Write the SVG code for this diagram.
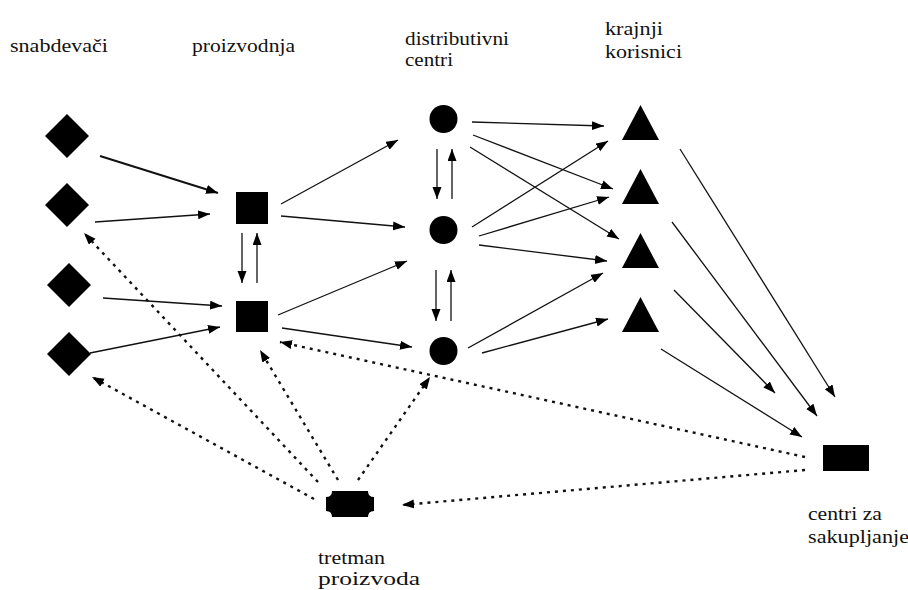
<svg xmlns="http://www.w3.org/2000/svg" width="908" height="590" viewBox="0 0 908 590">
<defs>
<marker id="ah" markerUnits="userSpaceOnUse" markerWidth="13" markerHeight="10" refX="12" refY="4.5" orient="auto">
<path d="M0,0 L12,4.5 L0,9 Z" fill="#000"/>
</marker>
</defs>
<style>
.lbl{font-family:"Liberation Serif","DejaVu Serif",serif;font-size:19px;fill:#111}
.s{stroke:#111;stroke-width:1.3;fill:none;marker-end:url(#ah)}
.d{stroke:#111;stroke-width:2.4;fill:none;stroke-dasharray:3 5;marker-end:url(#ah)}
.n{fill:#000}
</style>
<rect width="908" height="590" fill="#fff"/>

<g id="labels">
<text class="lbl" x="10" y="52" textLength="98" lengthAdjust="spacingAndGlyphs">snabdevači</text>
<text class="lbl" x="192" y="52" textLength="103" lengthAdjust="spacingAndGlyphs">proizvodnja</text>
<text class="lbl" x="405" y="45" textLength="104" lengthAdjust="spacingAndGlyphs">distributivni</text>
<text class="lbl" x="405" y="66" textLength="48" lengthAdjust="spacingAndGlyphs">centri</text>
<text class="lbl" x="605" y="35" textLength="58" lengthAdjust="spacingAndGlyphs">krajnji</text>
<text class="lbl" x="605" y="58" textLength="77" lengthAdjust="spacingAndGlyphs">korisnici</text>
<text class="lbl" x="318" y="564" textLength="67" lengthAdjust="spacingAndGlyphs">tretman</text>
<text class="lbl" x="318" y="585" textLength="102" lengthAdjust="spacingAndGlyphs">proizvoda</text>
<text class="lbl" x="808" y="520" textLength="74" lengthAdjust="spacingAndGlyphs">centri za</text>
<text class="lbl" x="808" y="543" textLength="101" lengthAdjust="spacingAndGlyphs">sakupljanje</text>
</g>

<g id="connectors">
<line class="s" x1="100" y1="156" x2="218" y2="193" style="stroke-width:2"/>
<line class="s" x1="95" y1="222" x2="210" y2="214"/>
<line class="s" x1="103" y1="298" x2="222" y2="306"/>
<line class="s" x1="90" y1="353" x2="220" y2="327"/>
<line class="s" x1="242" y1="233" x2="242" y2="283"/>
<line class="s" x1="257" y1="283" x2="257" y2="233"/>
<line class="s" x1="281" y1="204" x2="398" y2="140"/>
<line class="s" x1="281" y1="216" x2="405" y2="227"/>
<line class="s" x1="278" y1="315" x2="407" y2="261"/>
<line class="s" x1="282" y1="328" x2="412" y2="347"/>
<line class="s" x1="437" y1="149" x2="437" y2="199"/>
<line class="s" x1="452" y1="199" x2="452" y2="149"/>
<line class="s" x1="436" y1="270" x2="436" y2="321"/>
<line class="s" x1="451" y1="321" x2="451" y2="270"/>
<line class="s" x1="472" y1="122" x2="604" y2="126"/>
<line class="s" x1="473" y1="135" x2="613" y2="189"/>
<line class="s" x1="470" y1="147" x2="619" y2="239"/>
<line class="s" x1="472" y1="227" x2="608" y2="141"/>
<line class="s" x1="479" y1="236" x2="609" y2="197"/>
<line class="s" x1="479" y1="245" x2="607" y2="261"/>
<line class="s" x1="468" y1="348" x2="603" y2="273"/>
<line class="s" x1="482" y1="353" x2="608" y2="319"/>
<line class="s" x1="680" y1="149" x2="835" y2="397"/>
<line class="s" x1="672" y1="222" x2="817" y2="416"/>
<line class="s" x1="674" y1="290" x2="775" y2="393"/>
<line class="s" x1="661" y1="349" x2="802" y2="437"/>
<line class="d" x1="805" y1="457" x2="280" y2="342"/>
<line class="d" x1="805" y1="470" x2="402" y2="505"/>
<line class="d" x1="318" y1="482" x2="84" y2="233"/>
<line class="d" x1="314" y1="499" x2="92" y2="377"/>
<line class="d" x1="338" y1="480" x2="260" y2="350"/>
<line class="d" x1="358" y1="480" x2="430" y2="377"/>
</g>

<g id="supplier1"><path class="n" d="M67,114 L89,136 L67,158 L45,136 Z"/></g>
<g id="supplier2"><path class="n" d="M67,183 L89,205 L67,227 L45,205 Z"/></g>
<g id="supplier3"><path class="n" d="M69,263 L91,285 L69,307 L47,285 Z"/></g>
<g id="supplier4"><path class="n" d="M69,332 L91,354 L69,376 L47,354 Z"/></g>

<g id="plant1"><rect class="n" x="236" y="192" width="32" height="32"/></g>
<g id="plant2"><rect class="n" x="236" y="301" width="32" height="31"/></g>

<g id="dc1"><circle class="n" cx="443.5" cy="119" r="14"/></g>
<g id="dc2"><circle class="n" cx="443.5" cy="230" r="14"/></g>
<g id="dc3"><circle class="n" cx="443.5" cy="351" r="14"/></g>

<g id="customer1"><path class="n" d="M640.5,105 L659,140 L622,140 Z"/></g>
<g id="customer2"><path class="n" d="M640.5,169 L659,204 L622,204 Z"/></g>
<g id="customer3"><path class="n" d="M640.5,233 L659,268 L622,268 Z"/></g>
<g id="customer4"><path class="n" d="M640.5,297 L659,332 L622,332 Z"/></g>

<g id="collection"><rect class="n" x="823" y="445" width="46" height="26"/></g>

<g id="treatment"><path class="n" d="M332,491 L368,491 Q368,497 374,497 L374,511 Q368,511 368,517 L332,517 Q332,511 326,511 L326,497 Q332,497 332,491 Z"/></g>
</svg>
